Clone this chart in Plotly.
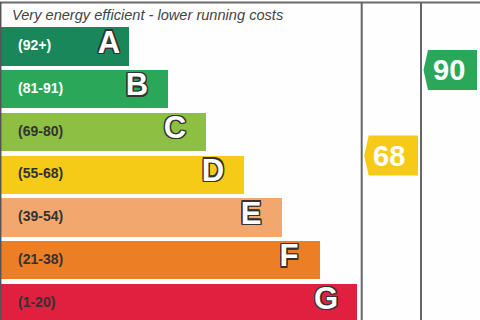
import plotly.graph_objects as go

# ---- data ----
bands = ["A", "B", "C", "D", "E", "F", "G"]
ranges = ["(92+)", "(81-91)", "(69-80)", "(55-68)", "(39-54)", "(21-38)", "(1-20)"]
band_lengths = [129, 168, 206, 244, 282, 320, 357]
band_colors = ["#19875a", "#2ba75a", "#8dbf43", "#f5cb18", "#f2a76e", "#ec7f26", "#e11f3e"]
range_text_colors = ["#ffffff", "#ffffff", "#333333", "#333333", "#333333", "#333333", "#333333"]
band_floor = [92, 81, 69, 55, 39, 21, 1]
current_rating = 68
potential_rating = 90
header = "Very energy efficient - lower running costs"

W, H = 480, 320
col_edges = [361.7, 421.0, 480.0]


def band_index(score):
    for i, f in enumerate(band_floor):
        if score >= f:
            return i
    return len(band_floor) - 1


idx = list(range(len(bands)))
fig = go.Figure()

fig.add_trace(go.Bar(
    orientation="h", x=band_lengths, y=idx, width=0.89,
    marker=dict(color=band_colors, line=dict(width=0)),
    hoverinfo="skip", showlegend=False,
))

# range labels
fig.add_trace(go.Scatter(
    x=[18] * len(bands), y=idx, mode="text", text=ranges,
    textposition="middle right",
    textfont=dict(family="Liberation Sans, Arial", size=14, color=range_text_colors, weight="bold"),
    hoverinfo="skip", showlegend=False,
))

# band letters
letter_x = [L - (20 if i == 0 else 31) for i, L in enumerate(band_lengths)]
outline = ", ".join(f"{dx}px {dy}px 0 #333" for dx in (-1.3, 0, 1.3) for dy in (-1.3, 0, 1.3) if dx or dy)
fig.add_trace(go.Scatter(
    x=letter_x, y=[i - 0.04 for i in idx], mode="text", text=bands,
    textposition="middle center",
    textfont=dict(family="Liberation Sans, Arial", size=31, color="white", weight="bold", shadow=outline),
    hoverinfo="skip", showlegend=False,
))

shapes = []
annotations = []

# rating arrows
for col, score in enumerate([current_rating, potential_rating]):
    bi = band_index(score)
    yc = bi - 0.45
    half = 0.468
    tip = col_edges[col] + 2.5
    left = tip + 4.5
    right = col_edges[col + 1] - 3
    path = f"M {left},{yc - half} L {right},{yc - half} L {right},{yc + half} L {left},{yc + half} L {tip},{yc} Z"
    shapes.append(dict(type="path", path=path, xref="x", yref="y",
                       fillcolor=band_colors[bi], line=dict(width=0), layer="above"))
    annotations.append(dict(x=(left + right) / 2 - 4, y=yc, xref="x", yref="y", text=str(score),
                            showarrow=False, xanchor="center", yanchor="middle",
                            font=dict(family="Liberation Sans, Arial", size=29, color="white", weight="bold")))

# frame lines
shapes.append(dict(type="line", xref="paper", yref="paper", x0=0, x1=1, y0=1 - 2.5 / H, y1=1 - 2.5 / H,
                   line=dict(color="#6a6a6a", width=2)))
for xe in col_edges[:2]:
    shapes.append(dict(type="line", xref="x", yref="paper", x0=xe, x1=xe, y0=0, y1=1 - 2 / H,
                       line=dict(color="#666666", width=2)))
shapes.append(dict(type="line", xref="x", yref="paper", x0=0.7, x1=0.7, y0=0, y1=1 - 2 / H,
                   line=dict(color="#555555", width=1.5)))

annotations.append(dict(x=10, y=1 - 15 / H, xref="x", yref="paper", text=header, showarrow=False,
                        xanchor="left", yanchor="middle",
                        font=dict(family="Liberation Sans, Arial", size=14.6, color="#444444", style="italic")))

y_top = -46.5 / 42.75
y_bot = (H - 46.5) / 42.75
fig.update_layout(
    width=W, height=H, margin=dict(l=0, r=0, t=0, b=0),
    paper_bgcolor="#fefefe", plot_bgcolor="#fefefe",
    xaxis=dict(range=[0, W], visible=False, fixedrange=True),
    yaxis=dict(range=[y_bot, y_top], visible=False, fixedrange=True),
    bargap=0, shapes=shapes, annotations=annotations, showlegend=False,
)

fig.write_html("out.html", config={"displayModeBar": False})
